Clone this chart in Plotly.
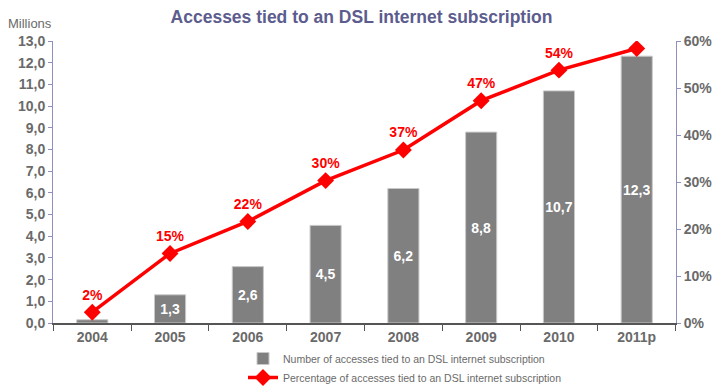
import plotly.graph_objects as go

years = ["2004", "2005", "2006", "2007", "2008", "2009", "2010", "2011p"]
accesses_millions = [0.15, 1.3, 2.6, 4.5, 6.2, 8.8, 10.7, 12.3]
share_pct = [0.023, 0.148, 0.216, 0.303, 0.368, 0.473, 0.538, 0.584]

bar_name = "Number of accesses tied to an DSL internet subscription"
line_name = "Percentage of accesses tied to an DSL internet subscription"

GRAY = "#6a6a6a"
AXIS = "#8f8fc0"
NARROW = "Liberation Sans Narrow, Arial Narrow, Liberation Sans, Arial"

bar_text = [f"{v:.1f}".replace(".", ",") if v >= 1 else "" for v in accesses_millions]

fig = go.Figure()
fig.add_trace(go.Bar(
    x=years, y=accesses_millions, name=bar_name,
    marker=dict(color="#808080", line=dict(color="#c8c8c8", width=1)),
    width=0.4,
    text=bar_text, textposition="inside", insidetextanchor="middle",
    constraintext="none", textangle=0,
    textfont=dict(color="white", size=14, family=NARROW, weight="bold"),
    hoverinfo="skip",
))
fig.add_trace(go.Scatter(
    x=years, y=share_pct, name=line_name, yaxis="y2",
    mode="lines+markers+text",
    line=dict(color="#ff0000", width=3.5),
    marker=dict(symbol="diamond", size=13, color="#ff0000"),
    texttemplate="%{y:.0%}", textposition="top center",
    textfont=dict(color="#ff0000", size=14, family=NARROW, weight="bold"),
))

fig.update_layout(
    width=723, height=392, autosize=False,
    margin=dict(l=53, r=47, t=41, b=69),
    plot_bgcolor="white", paper_bgcolor="white",
    separators=", ",
    bargap=0.6,
    title=dict(text="<b>Accesses tied to an DSL internet subscription</b>",
               x=0.5, xanchor="center", y=1 - 17 / 392, yanchor="middle",
               font=dict(family="Liberation Sans, Arial", size=17.5, color="#5c5c8e")),
    xaxis=dict(
        showline=True, linecolor="#555555", linewidth=1.5,
        ticks="outside", tickson="boundaries", ticklen=6, tickcolor="#555555",
        tickfont=dict(family=NARROW, size=14, color=GRAY, weight="bold"),
        showgrid=False, automargin=False,
    ),
    yaxis=dict(
        range=[0, 13], dtick=1, tickformat=".1f",
        showline=True, linecolor=AXIS, linewidth=1,
        ticks="outside", ticklen=4, tickcolor=AXIS,
        tickfont=dict(family=NARROW, size=14, color=GRAY, weight="bold"),
        showgrid=False, zeroline=False, automargin=False,
    ),
    yaxis2=dict(
        range=[0, 0.6], dtick=0.1, tickformat=".0%",
        overlaying="y", side="right",
        showline=True, linecolor=AXIS, linewidth=1,
        ticks="outside", ticklen=4, tickcolor=AXIS,
        tickfont=dict(family=NARROW, size=14, color=GRAY, weight="bold"),
        showgrid=False, zeroline=False, automargin=False,
    ),
    legend=dict(
        xref="paper", yref="container",
        x=(243 - 53) / 623, y=1 - 344 / 392, xanchor="left", yanchor="top",
        orientation="v", tracegroupgap=0, itemwidth=30,
        font=dict(family="Liberation Sans, Arial", size=10.5, color=GRAY),
        bgcolor="rgba(0,0,0,0)",
    ),
    showlegend=True,
    annotations=[dict(
        text="Millions", xref="paper", yref="paper",
        x=(30 - 53) / 623, y=(323 - 24) / 282, xanchor="center", yanchor="middle",
        showarrow=False,
        font=dict(family=NARROW, size=13, color=GRAY),
    )],
)

fig.write_html("out.html")
